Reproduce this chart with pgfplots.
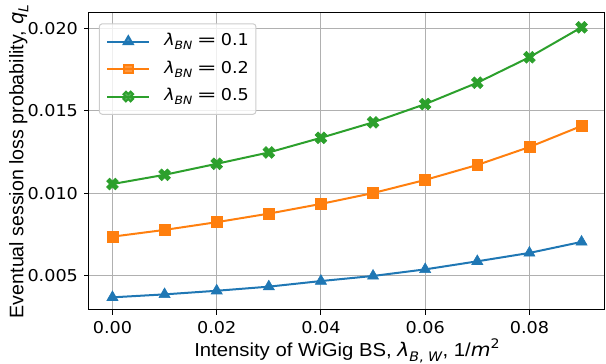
\documentclass[border=0pt]{standalone}
\usepackage{pgfplots}
\pgfplotsset{compat=1.18}
\usepackage{fontspec}
\setmainfont[FakeStretch=1.08]{Liberation Sans}
\newfontfamily\lsn{Liberation Sans}
\newfontfamily\dvs[FakeStretch=1.08]{DejaVu Sans}
\newfontfamily\dvsn{DejaVu Sans}
\definecolor{tabblue}{HTML}{1F77B4}
\definecolor{taborange}{HTML}{FF7F0E}
\definecolor{tabgreen}{HTML}{2CA02C}
\definecolor{gridc}{HTML}{B0B0B0}
\definecolor{legc}{HTML}{CCCCCC}
\newcommand{\lfs}{\fontsize{18.8}{22}\selectfont}
\newcommand{\yfs}{\fontsize{19.6}{22}\selectfont}
\newcommand{\tfs}{\fontsize{16.3}{20}\selectfont}
\newcommand{\sub}[1]{\raisebox{-0.25em}{\fontsize{0.7em}{1em}\selectfont #1}}
\newcommand{\sups}[1]{\raisebox{0.45em}{\fontsize{0.7em}{1em}\selectfont #1}}
\newcommand{\leg}[1]{{\dvs\tfs\textit{λ}\sub{\textit{BN}}\hspace{0.28em}\scalebox{1.35}[1]{=}\hspace{0.25em}#1}}
\pgfdeclareplotmark{Xfill}{%
  \pgftransformrotate{45}%
  \pgfpathmoveto{\pgfpoint{0.34\pgfplotmarksize}{0.34\pgfplotmarksize}}%
  \pgfpathlineto{\pgfpoint{\pgfplotmarksize}{0.34\pgfplotmarksize}}%
  \pgfpathlineto{\pgfpoint{\pgfplotmarksize}{-0.34\pgfplotmarksize}}%
  \pgfpathlineto{\pgfpoint{0.34\pgfplotmarksize}{-0.34\pgfplotmarksize}}%
  \pgfpathlineto{\pgfpoint{0.34\pgfplotmarksize}{-\pgfplotmarksize}}%
  \pgfpathlineto{\pgfpoint{-0.34\pgfplotmarksize}{-\pgfplotmarksize}}%
  \pgfpathlineto{\pgfpoint{-0.34\pgfplotmarksize}{-0.34\pgfplotmarksize}}%
  \pgfpathlineto{\pgfpoint{-\pgfplotmarksize}{-0.34\pgfplotmarksize}}%
  \pgfpathlineto{\pgfpoint{-\pgfplotmarksize}{0.34\pgfplotmarksize}}%
  \pgfpathlineto{\pgfpoint{-0.34\pgfplotmarksize}{0.34\pgfplotmarksize}}%
  \pgfpathlineto{\pgfpoint{-0.34\pgfplotmarksize}{\pgfplotmarksize}}%
  \pgfpathlineto{\pgfpoint{0.34\pgfplotmarksize}{\pgfplotmarksize}}%
  \pgfpathclose
  \pgfusepathqfillstroke}
\pgfplotstableread{
x      a        b        c
0.00   0.00366  0.00735  0.01055
0.01   0.00384  0.00776  0.01111
0.02   0.00406  0.00823  0.01178
0.03   0.00431  0.00875  0.01247
0.04   0.00465  0.00934  0.01336
0.05   0.00496  0.01000  0.01430
0.06   0.00536  0.01080  0.01541
0.07   0.00585  0.01171  0.01671
0.08   0.00636  0.01280  0.01826
0.09   0.00703  0.01408  0.02008
}\data
\begin{document}
\lfs
\begin{tikzpicture}
\begin{axis}[
  name=ax, at={(0,0)}, anchor=south west,
  scale only axis, width=516pt, height=297pt,
  xmin=-0.0045, xmax=0.0945, ymin=0.00289, ymax=0.02095,
  xtick={0,0.02,0.04,0.06,0.08},
  ytick={0.005,0.010,0.015,0.020},
  scaled x ticks=false, scaled y ticks=false,
  xticklabel={\pgfmathprintnumber[fixed,fixed zerofill,precision=2,assume math mode=true]{\tick}},
  yticklabel={\pgfmathprintnumber[fixed,fixed zerofill,precision=3,assume math mode=true]{\tick}},
  tick label style={font=\dvs\tfs},
  tick align=outside, major tick length=4.6pt,
  tick style={black, line width=1pt},
  xtick pos=bottom, ytick pos=left,
  axis line style={line width=1pt},
  grid=major, major grid style={gridc, line width=1pt},
  xlabel={Intensity of WiGig BS, {\dvs\textit{λ}\sub{\textit{B}, \textit{W}}}, 1/{\dvs\textit{m}\sups{2}}},
  ylabel={\lsn Eventual session loss probability,\hspace{0.3em}{\dvsn\textit{q}\sub{\textit{L}}}},
  xlabel style={font=\lfs, at={(axis description cs:0.5,-0.157)}, anchor=base},
  ylabel style={font=\yfs, at={(axis description cs:-0.127,0.5)}, anchor=base},
  every axis plot/.append style={line width=2pt},
  legend style={at={(axis description cs:0.019,0.9653)}, anchor=north west,
    draw=legc, line width=1pt, rounded corners=3pt, fill=white, fill opacity=0.8, text opacity=1,
    font=\dvs\tfs, row sep=11pt, column sep=14pt, inner xsep=7pt, inner ysep=9.5pt,
    nodes={inner sep=0pt, text height=12.5pt, text depth=4pt}},
  legend cell align=left,
  legend image code/.code={\draw[mark repeat=2, mark phase=2, mark options={scale=0.82}] plot coordinates {(0pt,0pt) (21pt,0pt) (42pt,0pt)};},
]
\addplot[tabblue, mark=triangle*, mark size=6.4pt, mark options={line width=0.6pt}] table[x=x,y=a] {\data};
\addlegendentry{\leg{0.1}}
\addplot[taborange, mark=square*, mark size=5.4pt, mark options={line width=0.6pt}] table[x=x,y=b] {\data};
\addlegendentry{\leg{0.2}}
\addplot[tabgreen, mark=Xfill, mark size=6.2pt, mark options={line width=0.6pt}] table[x=x,y=c] {\data};
\addlegendentry{\leg{0.5}}
\end{axis}
\pgfresetboundingbox
\path (-89pt,-54pt) rectangle (517pt,310pt);
\end{tikzpicture}
\end{document}
